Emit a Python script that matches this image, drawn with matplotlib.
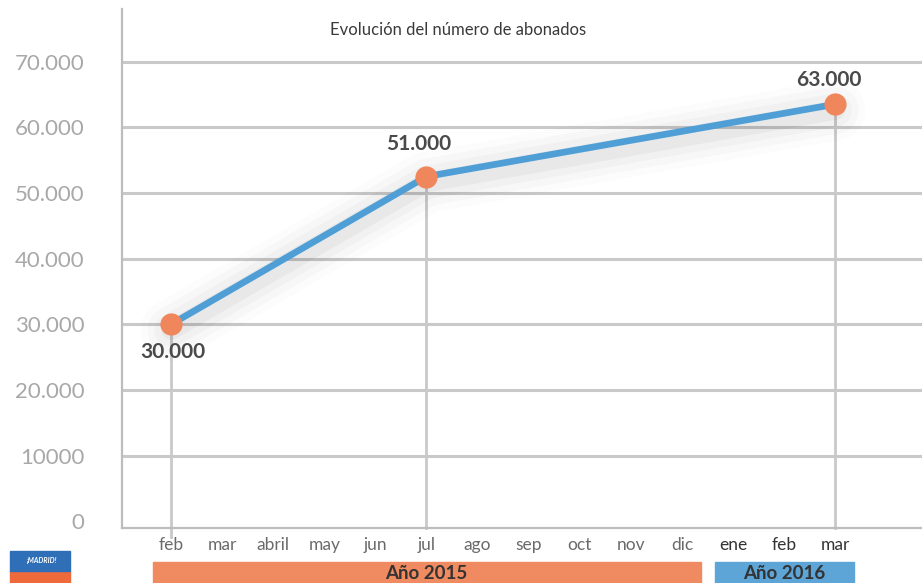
import matplotlib
matplotlib.use('Agg')
import matplotlib.pyplot as plt
from matplotlib.patches import Rectangle
from matplotlib.transforms import blended_transform_factory

# data
months = ['feb', 'mar', 'abril', 'may', 'jun', 'jul', 'ago', 'sep', 'oct', 'nov', 'dic',
          'ene', 'feb', 'mar']
point_idx = [0, 5, 13]
abonados = [30000, 52500, 63500]
point_labels = ['30.000', '51.000', '63.000']
label_offsets = [(2, -28), (-8, 33), (-6, 24)]   # pixels
yticks = [0, 10000, 20000, 30000, 40000, 50000, 60000, 70000]
ytick_labels = ['0', '10000', '20.000', '30.000', '40.000', '50.000', '60.000', '70.000']
years = ['Año 2015', 'Año 2016']
year_spans = [(0, 10), (11, 13)]
year_colors = ['#f08a60', '#5da5d6']
title = 'Evolución del número de abonados'

plt.rcParams['font.family'] = ['Lato', 'DejaVu Sans']

fig = plt.figure(figsize=(9.22, 5.83), dpi=100)
ax = fig.add_axes([122 / 922, 55 / 583, 800 / 922, 519 / 583])

ax.set_xlim(-0.96, 14.7)
ax.set_ylim(-1000, 78000)

# horizontal grid
for y in yticks[1:]:
    ax.axhline(y, color='#c9c9c9', lw=2.2, zorder=1)

# vertical drop lines from the points
for i, (x, v) in enumerate(zip(point_idx, abonados)):
    ymin = -2400 if i == 0 else -1000
    ax.plot([x, x], [ymin, v], color='#c9c9c9', lw=2, zorder=1, clip_on=False)

# soft shadow round the line
xs = point_idx
for lw, a in [(44, 0.012), (34, 0.018), (24, 0.025), (14, 0.035)]:
    ax.plot(xs, [v - 900 for v in abonados], color='black', lw=lw, alpha=a,
            solid_capstyle='round', solid_joinstyle='round', zorder=2)

ax.plot(xs, abonados, color='#4f9fd6', lw=4.8, zorder=3, solid_capstyle='round')
ax.plot(xs, abonados, 'o', color='#f0875c', ms=16, mec='none', zorder=4)

for x, v, lab, off in zip(xs, abonados, point_labels, label_offsets):
    ax.annotate(lab, (x, v), xytext=off, textcoords='offset pixels',
                ha='center', va='center', fontsize=15, fontweight='bold', color='#4a4a4a',
                zorder=5)

# spines
for s in ['top', 'right']:
    ax.spines[s].set_visible(False)
ax.spines['left'].set_color('#bdbdbd')
ax.spines['left'].set_linewidth(1.6)
ax.spines['bottom'].set_color('#bdbdbd')
ax.spines['bottom'].set_linewidth(1.6)

ax.set_yticks(yticks)
ax.set_yticklabels(ytick_labels)
ax.tick_params(axis='y', length=0, pad=27, labelsize=16, labelcolor='#a8a8a8')
ax.set_xticks([])

# month labels
trans = blended_transform_factory(ax.transData, ax.transAxes)
for i, m in enumerate(months):
    col = '#333333' if i >= 11 else '#6a6a6a'
    ax.text(i, -0.033, m, transform=trans, ha='center', va='center', fontsize=12.5,
            color=col)

# year bars
for (a, b), name, c in zip(year_spans, years, year_colors):
    x0, x1 = a - 0.36, b + 0.37
    ax.add_patch(Rectangle((x0, -0.108), x1 - x0, 0.043, transform=trans,
                           color=c, clip_on=False, zorder=1))
    ax.text((x0 + x1) / 2, -0.087, name, transform=trans, ha='center', va='center',
            fontsize=13.5, fontweight='bold', color='#333333')

ax.text(0.42, 0.96, title, transform=ax.transAxes, ha='center', va='center',
        fontsize=12, color='#3a3a3a')

# small logo in the corner
fig.patches.append(Rectangle((10 / 922, 0), 60 / 922, 12 / 583, transform=fig.transFigure,
                             color='#ee6a3a'))
fig.patches.append(Rectangle((10 / 922, 12 / 583), 60 / 922, 20 / 583,
                             transform=fig.transFigure, color='#2f6fb7'))
fig.text(42 / 922, 22 / 583, '¡MADRID!', fontsize=5, color='white', ha='center',
         va='center', style='italic', fontweight='bold')

fig.savefig('out.png', dpi=100)
